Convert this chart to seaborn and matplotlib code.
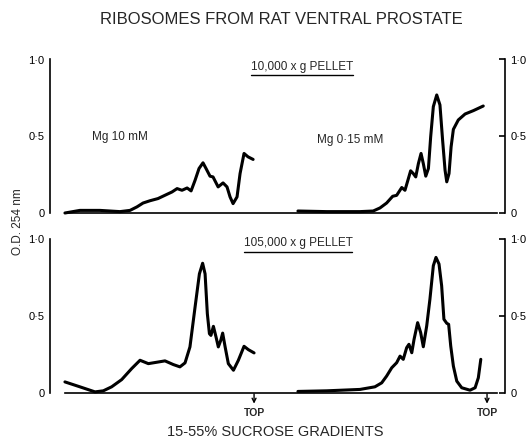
import matplotlib
matplotlib.use("Agg")
import matplotlib.pyplot as plt
import seaborn as sns
import pandas as pd
from matplotlib.lines import Line2D

# ---- data: position along gradient (% from bottom, 100 = TOP) and O.D. 254 nm ----
pos_10k_mg10 = [0, 7.9, 18.5, 29.1, 34.4, 38.1, 41.3, 45.0, 49.2, 54.0, 56.6, 59.3, 61.9,
                64.6, 66.7, 68.8, 70.9, 73.0, 74.6, 76.7, 78.3, 81.0, 83.6, 85.7, 87.3,
                88.9, 91.0, 92.6, 94.7, 96.8, 99.5]
od_10k_mg10 = [0.0, 0.017, 0.017, 0.009, 0.017, 0.04, 0.065, 0.08, 0.094, 0.122, 0.137,
               0.159, 0.148, 0.163, 0.144, 0.213, 0.29, 0.327, 0.29, 0.24, 0.235, 0.17,
               0.196, 0.17, 0.105, 0.061, 0.105, 0.257, 0.388, 0.366, 0.349]

pos_10k_mg015 = [0, 15.2, 32.8, 39.8, 43.4, 46.9, 50.1, 52.2, 54.9, 56.6, 58.4, 59.6, 61.0,
                 62.3, 63.7, 65.1, 66.3, 67.6, 69.0, 70.2, 71.6, 73.4, 75.1, 76.5, 77.8,
                 78.7, 79.9, 81.0, 82.2, 84.8, 88.4, 92.8, 98.0]
od_10k_mg015 = [0.013, 0.009, 0.009, 0.013, 0.033, 0.065, 0.109, 0.115, 0.166, 0.148, 0.224,
                0.275, 0.257, 0.235, 0.322, 0.388, 0.322, 0.24, 0.29, 0.497, 0.693, 0.769,
                0.704, 0.475, 0.279, 0.203, 0.257, 0.431, 0.545, 0.606, 0.645, 0.667, 0.697]

pos_105k_mg10 = [0, 7.9, 15.9, 20.3, 24.7, 30.0, 35.3, 39.7, 44.1, 48.5, 52.9, 57.3, 60.8,
                 63.5, 66.1, 68.8, 71.1, 72.8, 74.1, 75.3, 76.4, 77.2, 78.5, 79.9, 81.1,
                 82.4, 83.4, 84.7, 86.4, 89.1, 91.7, 94.7, 97.0, 100.0]
od_105k_mg10 = [0.069, 0.037, 0.004, 0.011, 0.037, 0.084, 0.156, 0.21, 0.188, 0.197, 0.206,
                0.182, 0.167, 0.193, 0.297, 0.556, 0.773, 0.842, 0.773, 0.513, 0.383, 0.372,
                0.431, 0.361, 0.297, 0.34, 0.387, 0.297, 0.188, 0.145, 0.21, 0.301, 0.279,
                0.258]

pos_105k_mg015 = [0, 15.2, 32.8, 40.7, 44.3, 46.9, 49.6, 52.2, 54.0, 55.7, 57.5, 58.7, 60.2,
                  61.4, 63.3, 64.9, 66.3, 68.1, 69.8, 71.6, 73.0, 74.6, 76.0, 77.2, 78.7,
                  79.7, 80.8, 82.2, 84.0, 86.6, 91.0, 93.7, 95.4, 96.7]
od_105k_mg015 = [0.007, 0.011, 0.02, 0.037, 0.063, 0.107, 0.161, 0.194, 0.237, 0.216, 0.292,
                 0.314, 0.259, 0.346, 0.455, 0.39, 0.298, 0.434, 0.608, 0.826, 0.88, 0.837,
                 0.695, 0.477, 0.451, 0.444, 0.303, 0.172, 0.074, 0.031, 0.015, 0.031, 0.096,
                 0.216]

ytick_vals = [0, 0.5, 1.0]
ytick_labels = ["0", "0·5", "1·0"]
title = "RIBOSOMES FROM RAT VENTRAL PROSTATE"
pellets = ["10,000 x g PELLET", "105,000 x g PELLET"]
conditions = ["Mg 10 mM", "Mg 0·15 mM"]

sns.set_style("white")
plt.rcParams["font.family"] = ["Liberation Sans", "DejaVu Sans"]

W, H = 532, 440
fig = plt.figure(figsize=(W / 100, H / 100), dpi=100)

def fx(px):
    return px / W

def fy(py):
    return 1 - py / H

rows = [(59.5, 213.0), (239.0, 392.5)]
traces = [[(pos_10k_mg10, od_10k_mg10), (pos_10k_mg015, od_10k_mg015)],
          [(pos_105k_mg10, od_105k_mg10), (pos_105k_mg015, od_105k_mg015)]]

LW_SP = 1.2
for r, (ytop, ybot) in enumerate(rows):
    b = fy(ybot)
    h = fy(ytop) - b
    axL = fig.add_axes([fx(50), b, fx(276) - fx(50), h])
    axR = fig.add_axes([fx(276), b, fx(505) - fx(276), h])
    for ax, (xs, ys) in zip((axL, axR), traces[r]):
        ax.patch.set_alpha(0)
        df = pd.DataFrame({"pos": xs, "od": ys})
        sns.lineplot(data=df, x="pos", y="od", ax=ax, color="black", lw=2.2,
                     sort=False, estimator=None, clip_on=False)
        ax.set_ylim(0, 1.0)
        ax.set_xlabel("")
        ax.set_ylabel("")
        ax.set_xticks([])
        for s in ax.spines.values():
            s.set_linewidth(LW_SP)
            s.set_color("black")
            s.set_clip_on(False)
        ax.spines["top"].set_visible(False)
    axL.set_xlim(-7.9, 111.6)
    axR.set_xlim(-11.6, 109.5)
    axL.spines["right"].set_visible(False)
    axR.spines["left"].set_visible(False)
    axR.spines["bottom"].set_visible(False)
    # one continuous baseline under both gradients
    axL.spines["bottom"].set_bounds(0, 228.5)
    axL.set_yticks(ytick_vals, ytick_labels)
    axR.yaxis.tick_right()
    axR.set_yticks(ytick_vals, ytick_labels)
    for ax in (axL, axR):
        ax.tick_params(axis="y", direction="in", length=4, width=LW_SP, pad=4,
                       labelsize=8, colors="black")
    if r == 1:
        for ax in (axL, axR):
            ax.annotate("TOP", xy=(100, 0), xycoords="data", xytext=(0, -15),
                        textcoords="offset points", ha="center", va="center",
                        fontsize=7.5, fontweight="bold",
                        arrowprops=dict(arrowstyle="<-", color="black", lw=1.0,
                                        shrinkA=1, shrinkB=1, mutation_scale=7),
                        annotation_clip=False)

# texts
fig.text(fx(281), fy(20), title, ha="center", va="center", fontsize=12)
pell_pos = [(302, 67, 75), (298, 243, 252)]
pell_texts = []
for lab, (cx, cy, uy) in zip(pellets, pell_pos):
    t = fig.text(fx(cx), fy(cy), lab, ha="center", va="center", fontsize=8.5)
    pell_texts.append((t, uy))
fig.text(fx(92), fy(137), conditions[0], ha="left", va="center", fontsize=8.5)
fig.text(fx(317), fy(140), conditions[1], ha="left", va="center", fontsize=8.5)
fig.text(fx(18), fy(222), "O.D. 254 nm", rotation=90, ha="center", va="center", fontsize=8.5)
fig.text(fx(275), fy(432), "15-55% SUCROSE GRADIENTS", ha="center", va="center", fontsize=10.5)

fig.canvas.draw()
rend = fig.canvas.get_renderer()
for t, uy in pell_texts:
    bb = t.get_window_extent(rend)
    fig.lines.append(Line2D([bb.x0 / W, bb.x1 / W], [fy(uy), fy(uy)],
                            transform=fig.transFigure, color="black", lw=1.0))

fig.savefig("out.png", dpi=100, facecolor="white")
